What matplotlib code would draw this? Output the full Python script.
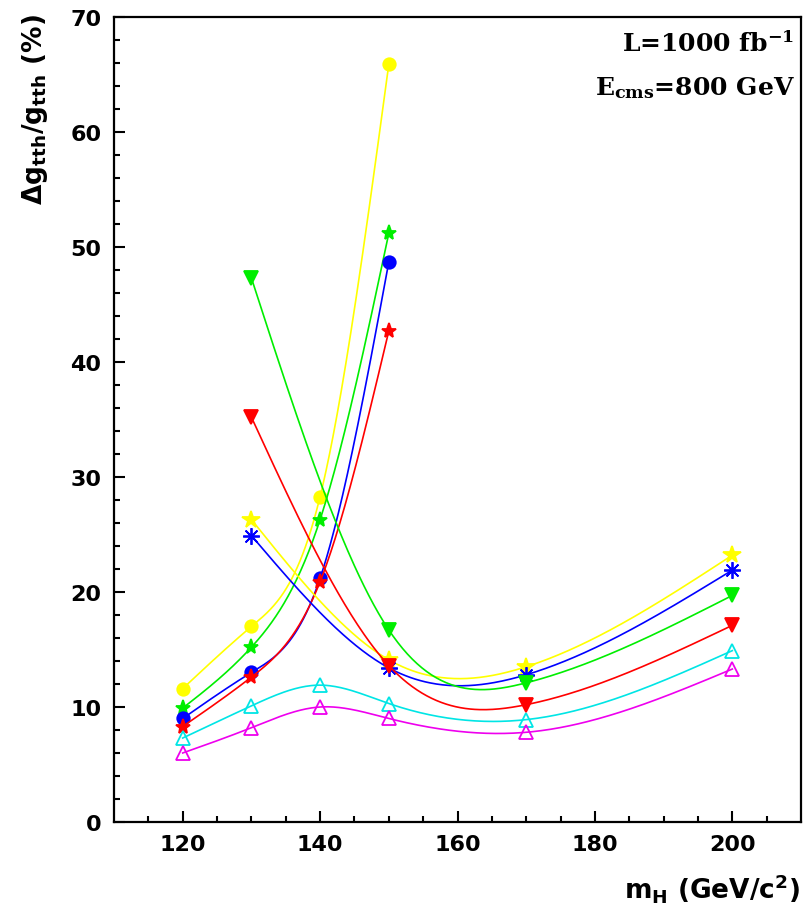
import numpy as np
import matplotlib
matplotlib.use("Agg")
import matplotlib.pyplot as plt

# masses (GeV)
mass_low = [120, 130, 140, 150]
mass_high = [130, 150, 170, 200]
mass_all = [120, 130, 140, 150, 170, 200]

# relative error on g_tth (%)
yellow_dot = [11.6, 17.0, 28.3, 65.9]
green_star = [9.9, 15.2, 26.3, 51.2]
blue_dot = [9.0, 13.0, 21.2, 48.7]
red_star = [8.3, 12.6, 20.9, 42.7]
cyan_tri = [7.3, 10.1, 11.9, 10.3, 8.9, 14.9]
magenta_tri = [6.0, 8.2, 10.0, 9.0, 7.8, 13.3]
yellow_star = [26.3, 14.1, 13.5, 23.2]
blue_aster = [24.9, 13.4, 12.8, 21.9]
green_tri = [47.3, 16.7, 12.1, 19.7]
red_tri = [35.2, 13.6, 10.2, 17.1]


def smooth(x, y, n=300):
    # natural cubic spline through the points (like ROOT "C" option)
    x = np.asarray(x, float)
    y = np.asarray(y, float)
    k = len(x)
    h = np.diff(x)
    A = np.zeros((k, k))
    b = np.zeros(k)
    A[0, 0] = A[-1, -1] = 1
    for i in range(1, k - 1):
        A[i, i - 1] = h[i - 1]
        A[i, i] = 2 * (h[i - 1] + h[i])
        A[i, i + 1] = h[i]
        b[i] = 6 * ((y[i + 1] - y[i]) / h[i] - (y[i] - y[i - 1]) / h[i - 1])
    M = np.linalg.solve(A, b)
    xs = np.linspace(x[0], x[-1], n)
    idx = np.clip(np.searchsorted(x, xs) - 1, 0, k - 2)
    x0, x1 = x[idx], x[idx + 1]
    hh = x1 - x0
    t0, t1 = x1 - xs, xs - x0
    ys = (M[idx] * t0**3 + M[idx + 1] * t1**3) / (6 * hh) \
        + (y[idx] / hh - M[idx] * hh / 6) * t0 \
        + (y[idx + 1] / hh - M[idx + 1] * hh / 6) * t1
    return xs, ys


plt.rcParams['font.family'] = 'DejaVu Sans'
plt.rcParams['font.weight'] = 'bold'
plt.rcParams['mathtext.fontset'] = 'custom'
plt.rcParams['mathtext.rm'] = 'DejaVu Serif:bold'
plt.rcParams['mathtext.bf'] = 'DejaVu Serif:bold'
plt.rcParams['mathtext.it'] = 'DejaVu Serif:bold'
plt.rcParams['mathtext.sf'] = 'DejaVu Sans:bold'
plt.rcParams['mathtext.default'] = 'rm'

fig = plt.figure(figsize=(8.04, 9.12), dpi=100)
ax = fig.add_axes([0.1418, 0.0976, 0.8545, 0.8827])

series = [
    (mass_low, yellow_dot, '#ffff00', 'o', 9, True),
    (mass_low, green_star, '#00ee00', '*', 11, True),
    (mass_low, blue_dot, '#0000ff', 'o', 9, True),
    (mass_low, red_star, '#ff0000', '*', 11, True),
    (mass_all, cyan_tri, '#00e5e5', '^', 10, False),
    (mass_all, magenta_tri, '#ee00ee', '^', 10, False),
    (mass_high, yellow_star, '#ffff00', '*', 13, True),
    (mass_high, blue_aster, '#0000ff', (8, 2, 0), 12, True),
    (mass_high, green_tri, '#00ee00', 'v', 10, True),
    (mass_high, red_tri, '#ff0000', 'v', 10, True),
]

for xv, yv, col, mk, ms, filled in series:
    xs, ys = smooth(xv, yv)
    ax.plot(xs, ys, color=col, lw=1.2)
    ax.plot(xv, yv, linestyle='none', marker=mk, ms=ms, color=col,
            mfc=col if filled else 'none', mec=col, mew=1.3)

ax.set_xlim(110, 210)
ax.set_ylim(0, 70)
ax.set_xticks([120, 140, 160, 180, 200])
ax.set_xticks(np.arange(115, 210, 5), minor=True)
ax.set_yticks(np.arange(0, 71, 10))
ax.set_yticks(np.arange(0, 71, 2), minor=True)
ax.tick_params(which='both', direction='in', top=False, right=False,
               width=1.5, labelsize=16)
ax.tick_params(which='major', length=8, pad=9)
ax.tick_params(which='minor', length=4)
for s in ax.spines.values():
    s.set_linewidth(1.6)

fig.text(0.044, 0.985, r'$\mathsf{\Delta g_{tth}/g_{tth}}$' + ' (%)',
         rotation=90, ha='center', va='top', fontsize=19)
fig.text(0.995, 0.008, r'$\mathsf{m_H}$' + ' (GeV/c' + r'$\mathsf{^2}$' + ')',
         ha='right', va='bottom', fontsize=19)

fig.text(0.988, 0.952, r'L=1000 fb$^{-1}$', ha='right', va='center',
         fontsize=18, family='DejaVu Serif')
fig.text(0.988, 0.903, r'E$_{cms}$=800 GeV', ha='right', va='center',
         fontsize=18, family='DejaVu Serif')

fig.savefig('out.png', dpi=100)
